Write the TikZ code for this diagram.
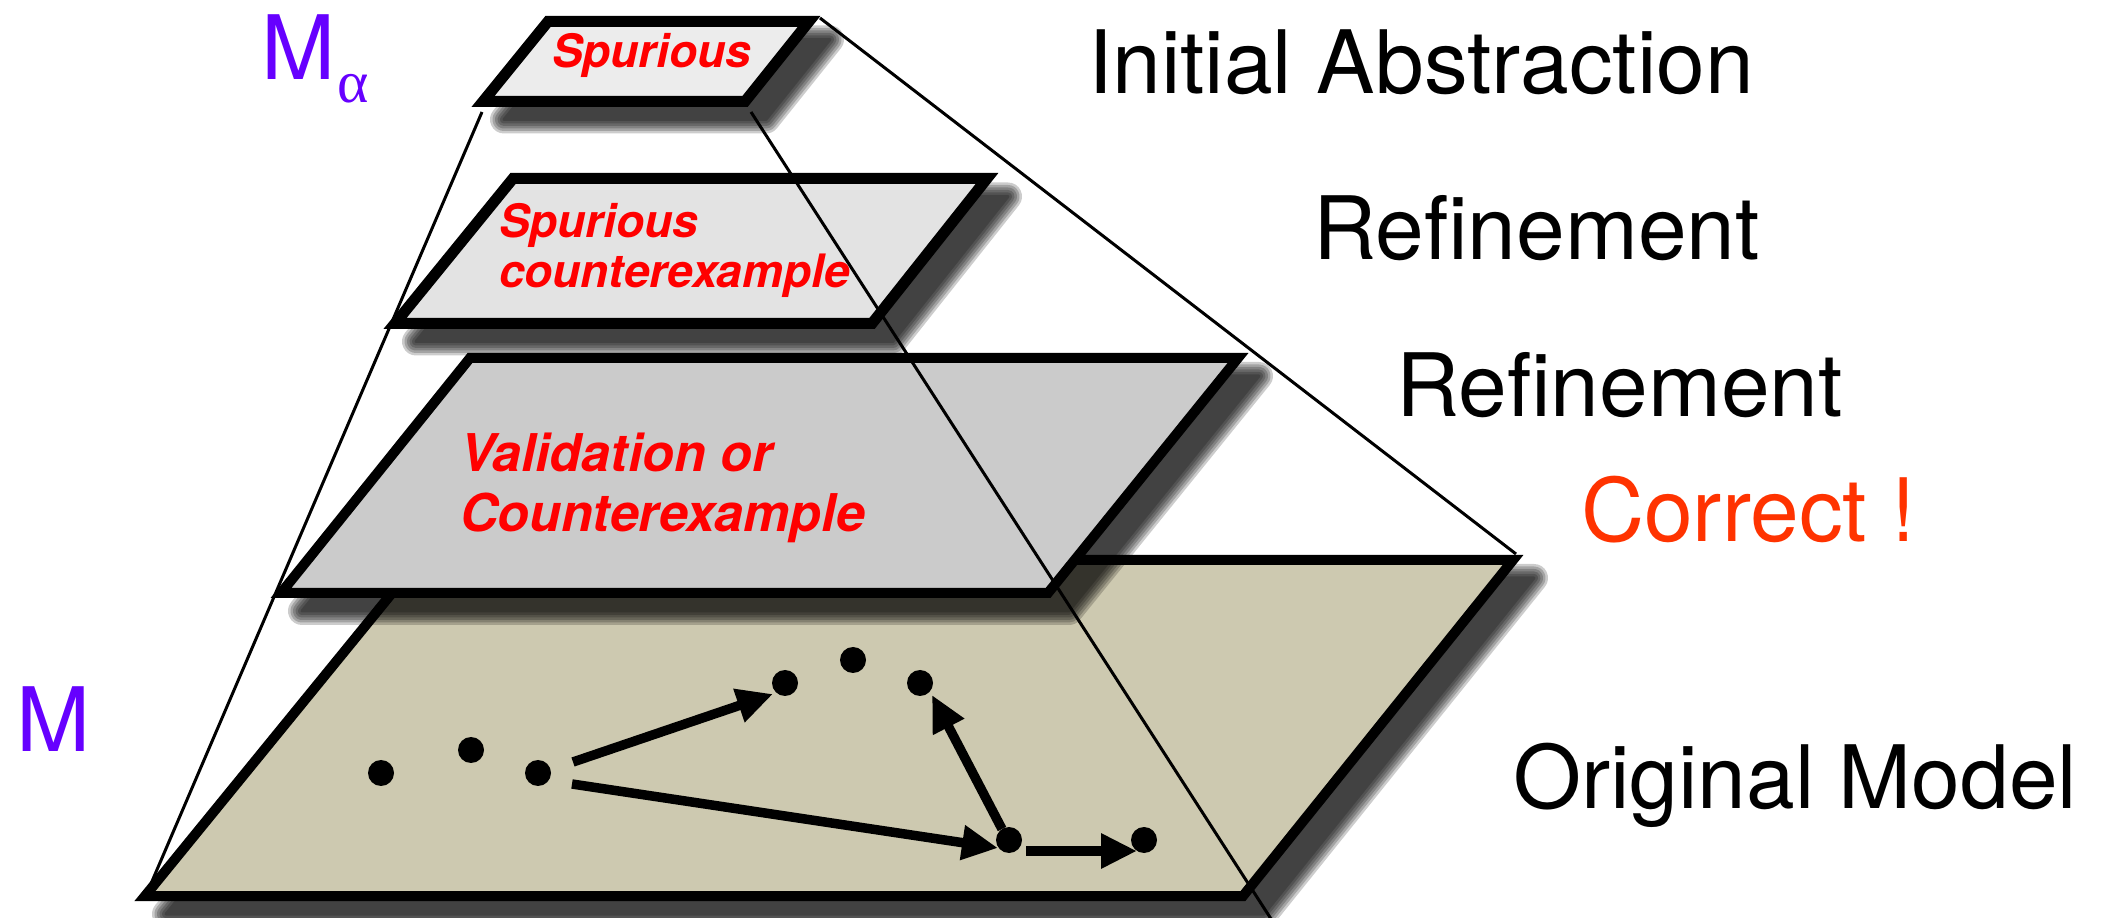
\documentclass[tikz,border=0pt]{standalone}
\usepackage{fontspec}
\setmainfont{TeX Gyre Heros}
\newfontfamily\greekserif{Liberation Serif}
\usetikzlibrary{arrows.meta,calc}

\definecolor{slabtop}{HTML}{ECECEC}
\definecolor{slabsecond}{HTML}{E3E3E3}
\definecolor{slabthird}{HTML}{CBCBCB}
\definecolor{slabbase}{HTML}{CDC9B0}
\definecolor{modelpurple}{HTML}{6600FF}
\definecolor{okorange}{HTML}{FF3300}

\tikzset{
  slab/.style={draw=black, line join=miter, miter limit=10},
  frame/.style={draw=black, line width=0.3mm},
  state/.style={circle, fill=black, inner sep=0pt, minimum size=2.6mm},
  flow/.style={line width=0.95mm, -{Triangle[length=3.6mm,width=3.3mm]}},
  lbl/.style={anchor=base west, inner sep=0pt, outer sep=0pt},
  stage/.style={lbl, font=\fontsize{24.9pt}{30pt}\selectfont},
  note/.style={lbl, text=red, align=left},
}

% soft drop shadow under a slab, built from stacked translucent layers
\newcommand\slabshadow[1]{%
  \foreach \sw in {28,23,18,13,8,3}{%
    \begin{scope}[transparency group, opacity=0.2]
      \filldraw[black, line width=\sw*0.1mm, line join=round, shift={(21,18)}] #1 -- cycle;
    \end{scope}}}

\begin{document}
\begin{tikzpicture}[x=0.1mm,y=-0.1mm]
\fill[white] (0,0) rectangle (2111,918);
\useasboundingbox (0,0) rectangle (2111,918);

% ---- base slab: original model
\slabshadow{(419,560) -- (1513,560) -- (1243,896) -- (145,896)}
\filldraw[slab, fill=slabbase, line width=1.0mm] (419,560) -- (1513,560) -- (1243,896) -- (145,896) -- cycle;

% ---- third slab
\slabshadow{(470,358) -- (1238,358) -- (1048,593) -- (281,593)}
\filldraw[slab, fill=slabthird, line width=1.0mm] (470,358) -- (1238,358) -- (1048,593) -- (281,593) -- cycle;

% ---- second slab
\slabshadow{(513,178.5) -- (987,178.5) -- (872,323.5) -- (395,323.5)}
\filldraw[slab, fill=slabsecond, line width=1.1mm] (513,178.5) -- (987,178.5) -- (872,323.5) -- (395,323.5) -- cycle;

% ---- top slab: initial abstraction
\slabshadow{(548,21.5) -- (809,21.5) -- (745,101.5) -- (483,101.5)}
\filldraw[slab, fill=slabtop, line width=1.1mm] (548,21.5) -- (809,21.5) -- (745,101.5) -- (483,101.5) -- cycle;

% ---- pyramid edges
\coordinate (leftTop) at (482,112);
\coordinate (leftBot) at (150,886);
\coordinate (midTop) at (751,112);
\coordinate (midBot) at (1273,922);
\coordinate (rightTop) at (820,18);
\coordinate (rightBot) at (1516,554);
\draw[frame] (leftTop) -- (leftBot);
\draw[frame] (midTop) -- (midBot);
\draw[frame] (rightTop) -- (rightBot);

% ---- slab labels (base anchor sits on the last line)
\node[note, font=\fontsize{13.1pt}{14.5pt}\selectfont\bfseries\itshape] (lab1) at (552,68) {Spurious};
\node[note, font=\fontsize{13.1pt}{14.5pt}\selectfont\bfseries\itshape] (lab2) at (499,288) {Spurious\\counterexample};
\node[note, font=\fontsize{14.8pt}{17.1pt}\selectfont\bfseries\itshape] (lab3) at (460,532) {Validation or\\Counterexample};

% ---- model names on the left
\node[lbl, text=modelpurple, font=\fontsize{25.3pt}{30pt}\selectfont] (mAlpha) at (261,80) {M};
\node[lbl, text=modelpurple, font=\greekserif\fontsize{17pt}{20pt}\selectfont] (alphaSub) at (337,103) {α};
\node[lbl, text=modelpurple, font=\fontsize{25.3pt}{30pt}\selectfont] (mOrig) at (16,752) {M};

% ---- stage names on the right
\node[stage] (initAbs) at (1088,94) {Initial Abstraction};
\node[stage] (refineA) at (1313,260) {Refinement};
\node[stage] (refineB) at (1396,417) {Refinement};
\node[stage, text=okorange] (correct) at (1581,542) {Correct !};
\node[stage] (origModel) at (1513,809) {Original Model};

% ---- state graph on the base slab
\node[state] (d1) at (381,773) {};
\node[state] (d2) at (471,750) {};
\node[state] (d3) at (538,773) {};
\node[state] (d4) at (785,683) {};
\node[state] (d5) at (853,660) {};
\node[state] (d6) at (920,683) {};
\node[state] (d7) at (1009,840) {};
\node[state] (d8) at (1144,840) {};

\draw[flow] ($(d3)+(35,-11)$) -- ($(d4)+(-12,11)$);
\draw[flow] ($(d3)+(34,11)$) -- ($(d7)+(-11,8)$);
\draw[flow] ($(d7)+(-7,-11)$) -- ($(d6)+(12,12)$);
\draw[flow] ($(d7)+(17,11)$) -- ($(d8)+(-7,11)$);

\end{tikzpicture}
\end{document}
